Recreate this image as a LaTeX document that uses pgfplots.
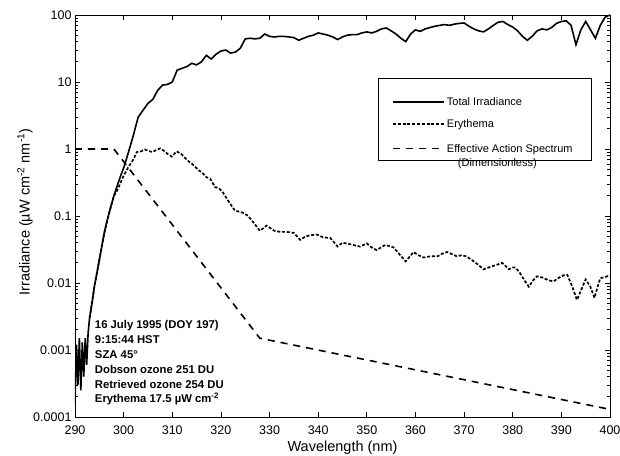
\documentclass[border=0pt]{standalone}
\usepackage{fontspec}
\setmainfont{Liberation Sans}
\usepackage{pgfplots}
\pgfplotsset{compat=1.18}

% spectra
\pgfplotstableread{
x y
290 0.00015
290.3 0.0012
290.6 0.0003
290.9 0.0015
291.2 0.00025
291.5 0.0013
291.8 0.0004
292.1 0.0015
292.4 0.0006
292.7 0.0018
293 0.003
293.5 0.005
294 0.009
294.5 0.014
295 0.022
295.5 0.035
296 0.055
296.5 0.08
297 0.11
297.5 0.15
298 0.2
298.5 0.26
299 0.33
299.5 0.42
300 0.52
300.5 0.68
301 0.9
301.5 1.2
302 1.6
302.5 2.2
303 3.0
304 3.8
305 4.8
306 5.5
307 7.5
308 9.0
309 9.2
310 10
311 15
312 16
313 17
314 19
315 18
316 20
317 25
318 22
319 26
320 29
321 30
322 27
323 28
324 32
325 44
326 45
327 44
328 45
329 52
330 48
331 47
332 48
333 48
334 47
335 46
336 42
337 45
338 48
339 50
340 54
341 52
342 50
343 47
344 43
345 47
346 50
347 51
348 51
349 54
350 56
351 54
352 57
353 62
354 64
355 58
356 52
357 45
358 40
359 52
360 60
361 57
362 62
363 65
364 68
365 70
366 72
367 70
368 73
369 75
370 76
371 68
372 62
373 58
374 56
375 62
376 70
377 78
378 80
379 72
380 66
381 58
382 48
383 42
384 48
385 58
386 62
387 60
388 65
389 75
390 80
391 82
392 70
393 36
394 60
395 80
396 60
397 45
398 70
399 93
400 100
}\total

\pgfplotstableread{
x y
293 0.003
294 0.009
295 0.022
296 0.055
297 0.11
298 0.2
298.8 0.25
299.5 0.33
300 0.4
301 0.54
302 0.7
302.7 0.9
303.5 0.92
304.4 0.98
305.2 0.93
306 0.9
306.8 0.98
307.5 1.02
308.2 0.95
309 0.85
309.9 0.77
310.9 0.92
311.8 0.85
312.5 0.75
313.3 0.66
314.3 0.58
315.3 0.49
316.2 0.44
317 0.38
317.8 0.36
318.8 0.27
319.6 0.26
320.5 0.22
321.7 0.16
322.9 0.12
324 0.115
324.8 0.11
325.6 0.10
326.7 0.08
328 0.06
329.4 0.072
330.3 0.065
331 0.06
332.2 0.058
333.5 0.058
335 0.056
336.3 0.044
337.5 0.05
338.7 0.052
339.7 0.053
341 0.048
342.5 0.047
344 0.035
345 0.04
346.5 0.038
348.6 0.035
350 0.039
351 0.034
352 0.031
353.8 0.037
355.5 0.034
356.5 0.028
358 0.021
359.6 0.029
360.6 0.026
361.7 0.024
363 0.025
364.5 0.025
365.8 0.028
366.5 0.029
367.5 0.027
368.5 0.025
369.5 0.026
370.5 0.025
371.6 0.022
372.8 0.019
374 0.016
375 0.017
376 0.018
377 0.019
377.8 0.020
378.5 0.018
379.2 0.016
380 0.017
380.6 0.017
381.5 0.014
382.4 0.011
383.3 0.0088
384.2 0.011
385 0.0126
386.2 0.012
387.3 0.011
388.4 0.0106
389.5 0.012
390.4 0.013
391.2 0.0133
392.2 0.009
393.2 0.0056
394.1 0.008
395 0.0113
395.9 0.009
396.8 0.0060
397.5 0.009
398 0.0118
399 0.0123
400 0.013
}\erythema

\begin{document}
\begin{tikzpicture}
\begin{axis}[
    name=ax,
    scale only axis,
    width=535pt,
    height=402pt,
    ymode=log,
    xmin=290, xmax=400,
    ymin=1e-4, ymax=100,
    xtick={290,300,...,400},
    ytick={1e-4,1e-3,1e-2,1e-1,1,10,100},
    yticklabels={0.0001,0.001,0.01,0.1,1,10,100},
    /pgf/number format/assume math mode=true,
    tick label style={font=\fontsize{12.5}{13}\selectfont},
    xticklabel style={yshift=-5pt},
    tick align=inside,
    major tick length=5pt,
    minor tick length=3pt,
    axis line style={line width=0.9pt},
    every tick/.style={black, line width=0.7pt},
    xlabel={Wavelength (nm)},
    ylabel={Irradiance (µW cm\textsuperscript{-2} nm\textsuperscript{-1})},
    label style={font=\fontsize{14.5}{15}\selectfont},
    xlabel style={at={(axis description cs:0.5,-0.076)}, anchor=center},
    ylabel style={at={(axis description cs:-0.0935,0.51)}, anchor=center},
    legend style={
        at={(rel axis cs:0.566,0.843)}, anchor=north west,
        draw=black, line width=0.8pt,
        font=\fontsize{11}{13}\selectfont,
        row sep=8.5pt, inner xsep=14pt, inner ysep=4pt,
        cells={anchor=base west},
    },
    legend image code/.code={%
        \draw[#1] (0pt,3.8pt) -- (42pt,3.8pt);
        \path (0pt,3.8pt) -- (51pt,3.8pt);},
]

\addplot[black, line width=1.6pt] table {\total};
\addlegendentry{\rule{0pt}{21pt}\makebox[128pt][l]{Total Irradiance}}

\addplot[black, line width=1.7pt, dash pattern=on 3pt off 1.8pt] table {\erythema};
\addlegendentry{Erythema}

\addplot[black, line width=1.6pt, dash pattern=on 7pt off 6pt] coordinates {
    (290,1) (298,1) (328,0.0015) (400,0.00013)
};
\addlegendentry{\begin{tabular}[t]{@{}l@{}}\rule{0pt}{11pt}Effective Action Spectrum\\[1pt]\hspace{1em}(Dimensionless)\end{tabular}}

\node[anchor=north west, align=left, inner sep=0pt,
      font=\bfseries\fontsize{11.3}{14.8}\selectfont]
    at (rel axis cs:0.037,0.24)
    {16 July 1995 (DOY 197)\\9:15:44 HST\\SZA 45°\\Dobson ozone 251 DU\\Retrieved ozone 254 DU\\Erythema 17.5 µW cm\textsuperscript{-2}};
\end{axis}
\pgfresetboundingbox
\path[use as bounding box] ([shift={(-75pt,-38pt)}]ax.south west) rectangle ([shift={(10pt,15pt)}]ax.north east);
\end{tikzpicture}
\end{document}
